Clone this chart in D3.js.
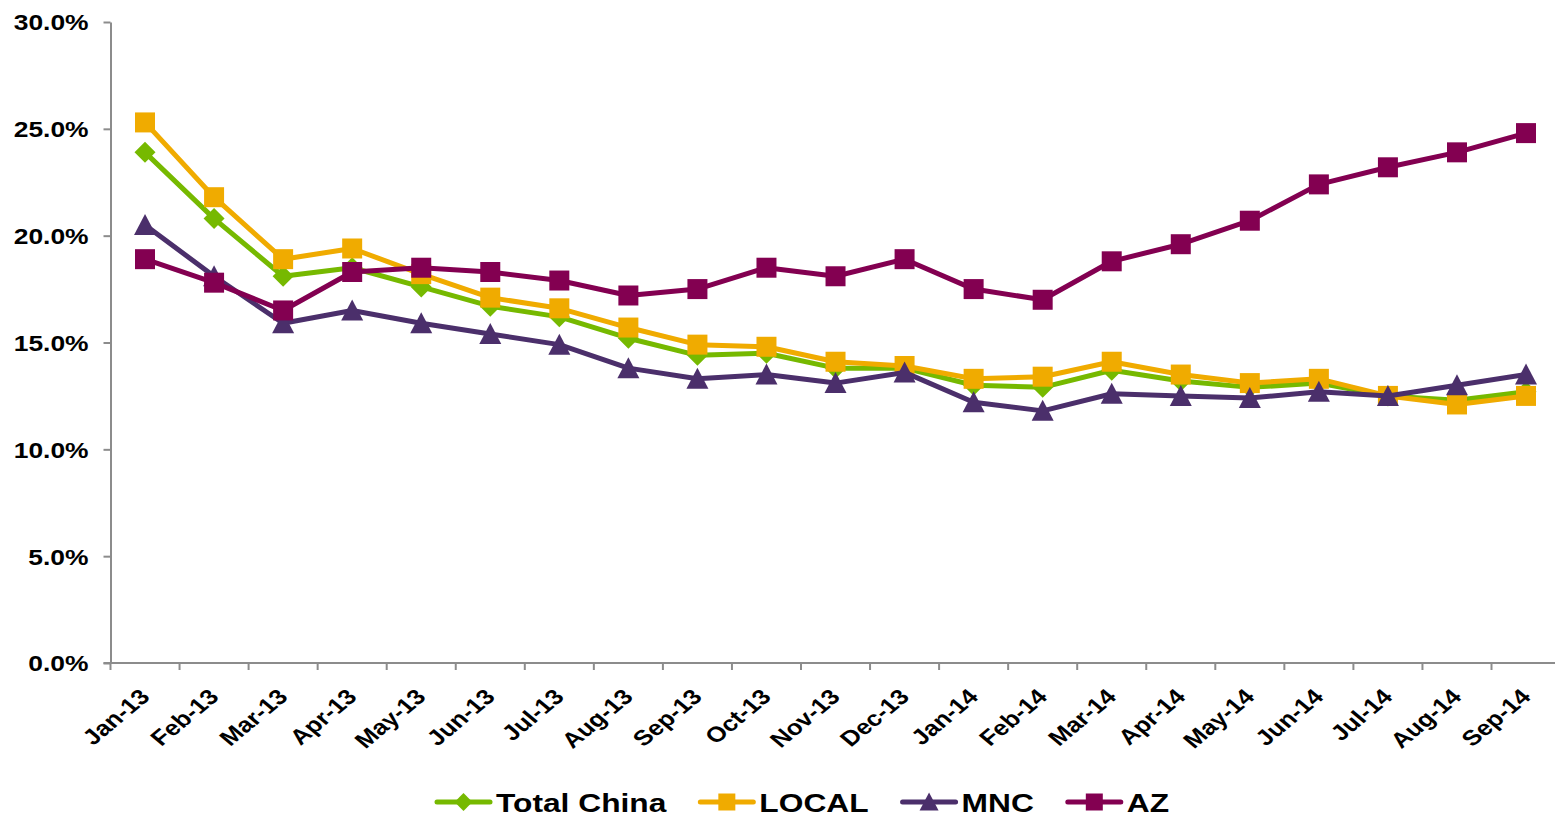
<!DOCTYPE html>
<html>
<head>
<meta charset="utf-8">
<script src="https://cdn.jsdelivr.net/npm/d3@7"></script>
<style>
  body { margin: 0; background: #fff; }
  svg { display: block; font-family: "Liberation Sans", Arial, sans-serif; font-weight: bold; }
</style>
</head>
<body>
<script>
'use strict';

const months = ['Jan-13', 'Feb-13', 'Mar-13', 'Apr-13', 'May-13', 'Jun-13', 'Jul-13', 'Aug-13', 'Sep-13',
  'Oct-13', 'Nov-13', 'Dec-13', 'Jan-14', 'Feb-14', 'Mar-14', 'Apr-14', 'May-14', 'Jun-14', 'Jul-14',
  'Aug-14', 'Sep-14'];

const totalChina = [23.9, 20.8, 18.1, 18.5, 17.6, 16.7, 16.2, 15.2, 14.4, 14.5, 13.8, 13.8,
  13.0, 12.9, 13.7, 13.2, 12.9, 13.1, 12.5, 12.3, 12.7];
const local = [25.3, 21.8, 18.9, 19.4, 18.2, 17.1, 16.6, 15.7, 14.9, 14.8, 14.1, 13.9,
  13.3, 13.4, 14.1, 13.5, 13.1, 13.3, 12.5, 12.1, 12.5];
const mnc = [20.5, 18.1, 15.9, 16.5, 15.9, 15.4, 14.9, 13.8, 13.3, 13.5, 13.1, 13.6,
  12.2, 11.8, 12.6, 12.5, 12.4, 12.7, 12.5, 13.0, 13.5];
const az = [18.9, 17.8, 16.5, 18.3, 18.5, 18.3, 17.9, 17.2, 17.5, 18.5, 18.1, 18.9,
  17.5, 17.0, 18.8, 19.6, 20.7, 22.4, 23.2, 23.9, 24.8];

const yTicks = [0, 5, 10, 15, 20, 25, 30];

const series = [
  {name: 'Total China', values: totalChina, color: '#76b900', marker: 'diamond'},
  {name: 'LOCAL', values: local, color: '#f0ab00', marker: 'square'},
  {name: 'MNC', values: mnc, color: '#4b2f6b', marker: 'triangle'},
  {name: 'AZ', values: az, color: '#830051', marker: 'square'}
];

const W = 1555, H = 816;
const stretch = 1.2; // text in the picture is a little wider than tall
const axisColor = '#8c8c8c';

const svg = d3.select('body').append('svg')
  .attr('width', W)
  .attr('height', H);

const x = d3.scaleBand()
  .domain(months)
  .range([110.5, 110.5 + 21 * 69.05]);

const y = d3.scaleLinear()
  .domain([0, 30])
  .range([663, 22]);

// y axis
const yAxis = d3.axisLeft(y)
  .tickValues(yTicks)
  .tickFormat(d => d.toFixed(1) + '%')
  .tickSize(7)
  .tickSizeOuter(0);

const gy = svg.append('g')
  .attr('transform', 'translate(' + x.range()[0] + ',0)')
  .call(yAxis);

gy.select('.domain').attr('stroke', axisColor).attr('stroke-width', 2);
gy.selectAll('.tick line').attr('stroke', axisColor).attr('stroke-width', 2);
gy.selectAll('.tick text')
  .attr('x', -22 / stretch)
  .attr('dy', '0.36em')
  .attr('transform', 'scale(' + stretch + ',1)')
  .attr('fill', '#000')
  .style('font-size', '22px')
  .style('font-family', '"Liberation Sans", Arial, sans-serif')
  .style('font-weight', 'bold');

// x axis: ticks sit on band boundaries, labels at band centres
const gx = svg.append('g').attr('class', 'x-axis');
gx.append('line')
  .attr('x1', x.range()[0] - 7)
  .attr('x2', W)
  .attr('y1', y(0))
  .attr('y2', y(0))
  .attr('stroke', axisColor)
  .attr('stroke-width', 2);

gx.selectAll('.xtick')
  .data(months)
  .enter()
  .append('line')
  .attr('class', 'xtick')
  .attr('x1', d => x(d))
  .attr('x2', d => x(d))
  .attr('y1', y(0))
  .attr('y2', y(0) + 7)
  .attr('stroke', axisColor)
  .attr('stroke-width', 2);

gx.selectAll('.xlabel')
  .data(months)
  .enter()
  .append('text')
  .attr('class', 'xlabel')
  .attr('text-anchor', 'end')
  .attr('transform', d => 'translate(' + (x(d) + x.bandwidth() / 2 + 6) + ',698) scale(' + stretch + ',1) rotate(-45)')
  .style('font-size', '21.5px')
  .text(d => d);

// markers
const markerPath = (type, s) => {
  if (type === 'square') return d3.symbol(d3.symbolSquare, s * s)();
  if (type === 'diamond') {
    const h = s / 2;
    return 'M0,' + (-h) + 'L' + h + ',0L0,' + h + 'L' + (-h) + ',0Z';
  }
  const h = s / 2;
  return 'M0,' + (-h - 1) + 'L' + (h + 1) + ',' + h + 'L' + (-h - 1) + ',' + h + 'Z';
};
const markerSize = {square: 20, diamond: 21, triangle: 20};

const line = d3.line()
  .x((d, i) => x(months[i]) + x.bandwidth() / 2)
  .y(d => y(d));

series.forEach(s => {
  const g = svg.append('g').attr('class', 'series');
  g.append('path')
    .datum(s.values)
    .attr('d', line)
    .attr('fill', 'none')
    .attr('stroke', s.color)
    .attr('stroke-width', 5)
    .attr('stroke-linejoin', 'round');
  g.selectAll('path.marker')
    .data(s.values)
    .enter()
    .append('path')
    .attr('class', 'marker')
    .attr('transform', (d, i) => 'translate(' + (x(months[i]) + x.bandwidth() / 2) + ',' + y(d) + ')')
    .attr('d', markerPath(s.marker, markerSize[s.marker]))
    .attr('fill', s.color);
});

// legend
const legend = svg.append('g').attr('class', 'legend');
let lx = 437;
const ly = 802;
series.forEach(s => {
  const item = legend.append('g');
  item.append('line')
    .attr('x1', lx)
    .attr('x2', lx + 53)
    .attr('y1', ly)
    .attr('y2', ly)
    .attr('stroke', s.color)
    .attr('stroke-width', 5)
    .attr('stroke-linecap', 'round');
  item.append('path')
    .attr('transform', 'translate(' + (lx + 26.5) + ',' + ly + ')')
    .attr('d', markerPath(s.marker, markerSize[s.marker] * 0.85))
    .attr('fill', s.color);
  const t = item.append('text')
    .attr('transform', 'translate(' + (lx + 59) + ',' + (ly + 10) + ') scale(' + 1.22 + ',1)')
    .style('font-size', '26px')
    .text(s.name);
  lx += 59 + t.node().getComputedTextLength() * 1.22 + 34;
});
</script>
</body>
</html>
